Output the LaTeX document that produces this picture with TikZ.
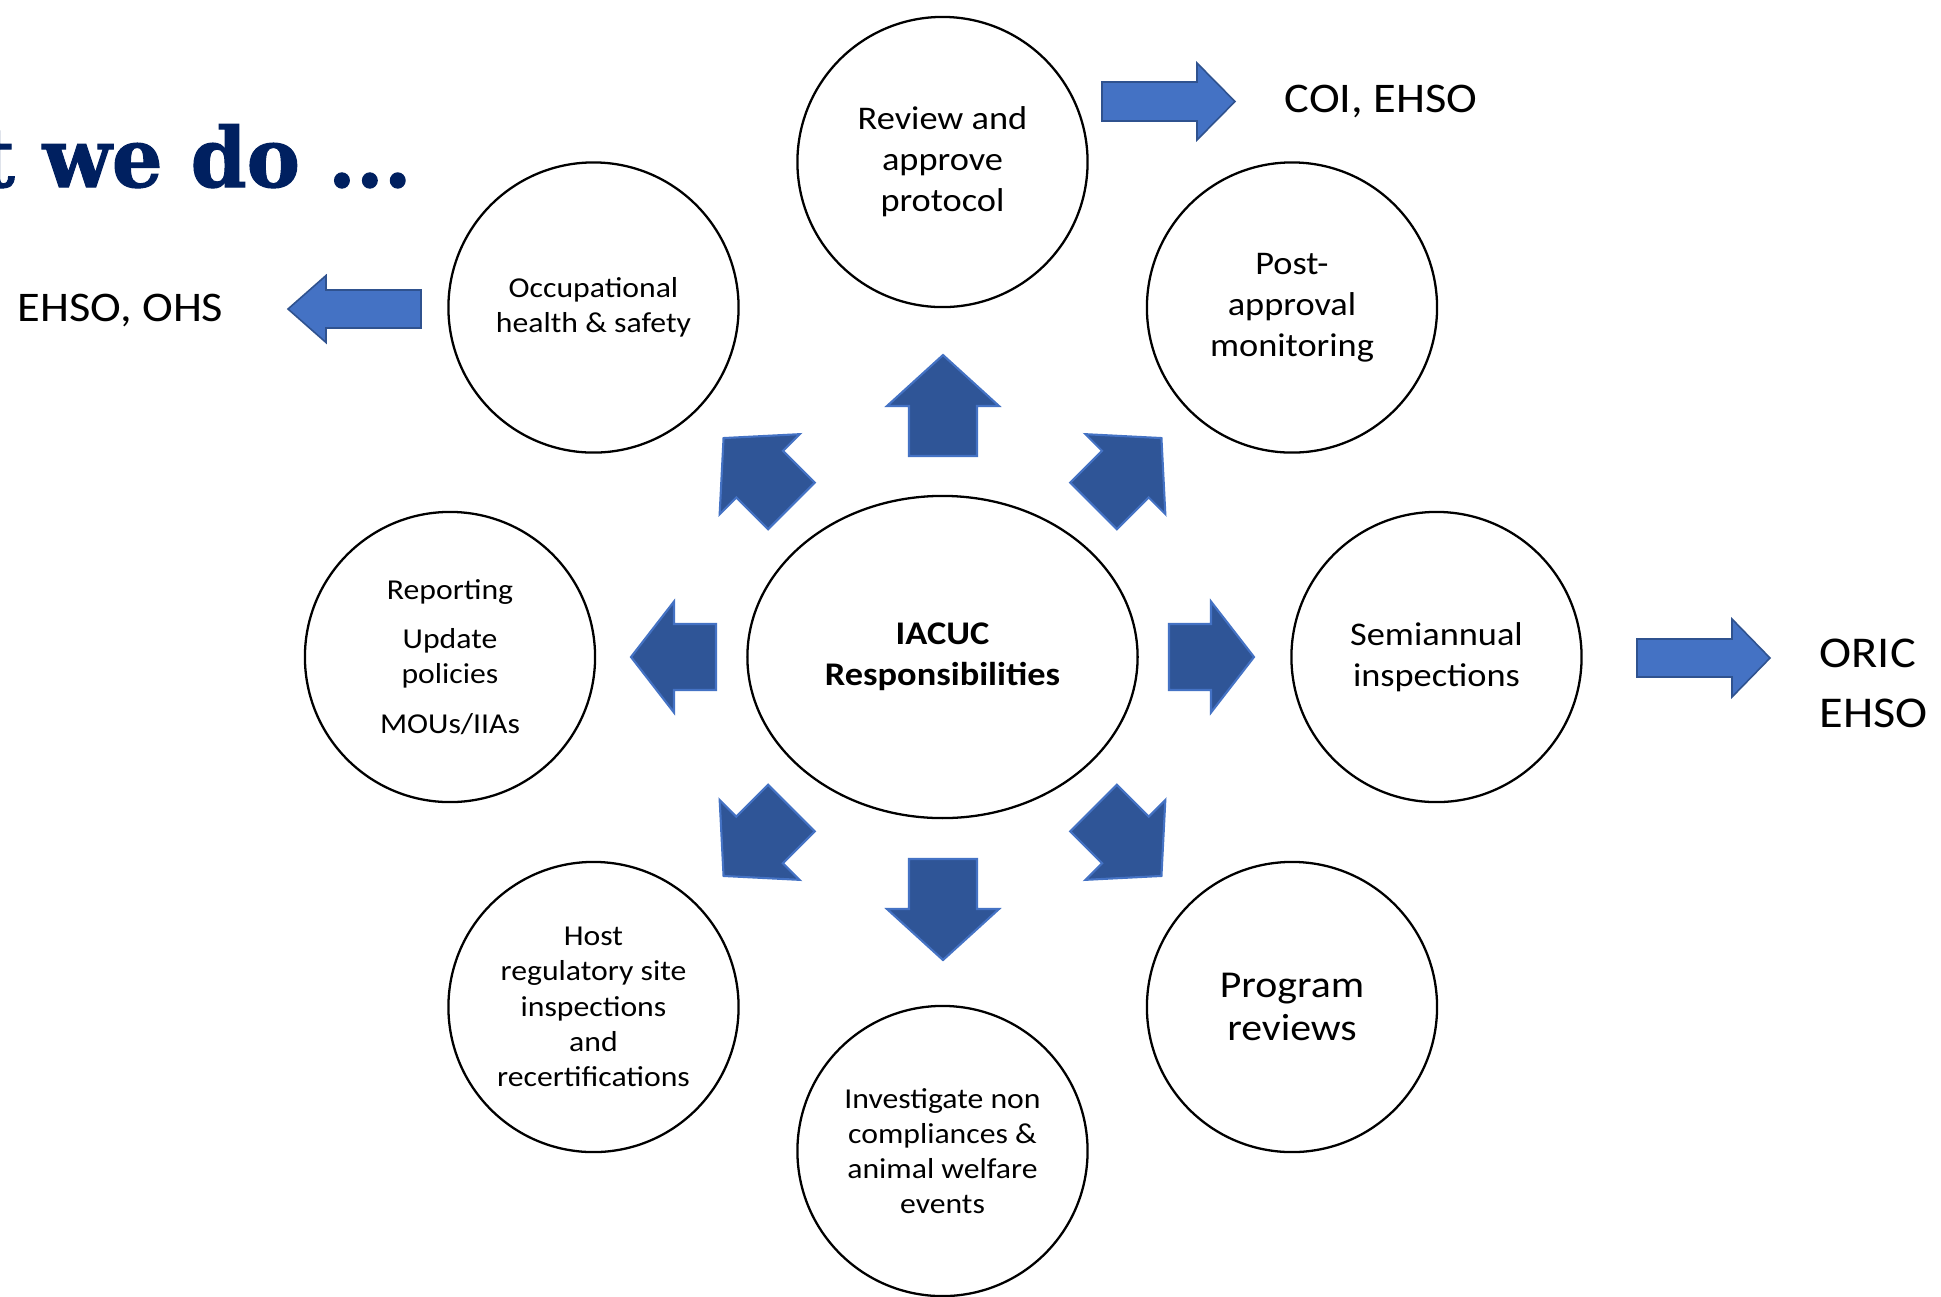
\documentclass[tikz,border=0pt]{standalone}
\usepackage{fontspec}
\setmainfont{Carlito}[FakeStretch=1.1]
\newfontfamily\titlefont{DejaVu Serif}[FakeStretch=0.97,FakeBold=1.2]
\usetikzlibrary{shapes.geometric}
\definecolor{arrdark}{HTML}{2F5597}
\definecolor{arrlight}{HTML}{4472C4}
\definecolor{arredge}{HTML}{2F528F}
\definecolor{titleblue}{HTML}{002060}
% block arrow: style, x, y, angle, shaft length, head length, shaft half width, head half width
\newcommand\blkarrow[8]{%
  \begin{scope}[shift={(#2,#3)}, rotate=#4]
    \pgfmathsetmacro\blkta{-(#5+#6)/2}
    \pgfmathsetmacro\blkhb{\blkta+#5}
    \pgfmathsetmacro\blktp{\blkta+#5+#6}
    \draw[#1] (\blkta,-#7) -- (\blkhb,-#7) -- (\blkhb,-#8) -- (\blktp,0)
      -- (\blkhb,#8) -- (\blkhb,#7) -- (\blkta,#7) -- cycle;
  \end{scope}}
\tikzset{
  bubble/.style={circle, draw=black, line width=0.65pt, minimum size=2.9cm,
    inner sep=0pt, align=center},
  smalltxt/.style={font=\fontsize{8.2}{10}\selectfont},
  midtxt/.style={font=\fontsize{9.4}{11.7}\selectfont},
  innerarrow/.style={fill=arrdark, draw=arrlight, line width=0.6pt},
  outerarrow/.style={fill=arrlight, draw=arredge, line width=0.45pt},
  outlabel/.style={inner sep=0pt, font=\fontsize{12}{14}\selectfont},
}
\begin{document}
\begin{tikzpicture}[x=0.01cm, y=-0.01cm]
\useasboundingbox (0,0) rectangle (1941,1296);
\fill[white] (0,0) rectangle (1941,1296);
\clip (0,0) rectangle (1941,1296);

% title
\node[anchor=base west, inner sep=0pt, text=titleblue,
  font=\titlefont\bfseries\fontsize{23.5}{28}\selectfont] (title) at (42,187)
  {\llap{t\ }we do ...};

% centre
\node[ellipse, draw=black, line width=0.65pt, minimum width=3.9cm,
  minimum height=3.22cm, inner sep=0pt, align=center,
  font=\bfseries\fontsize{9.4}{11.7}\selectfont] (core) at (942.5,657)
  {IACUC\\Responsibilities};

% satellites
\node[bubble, midtxt] (rev) at (942.5,162) {Review and\\approve\\protocol};
\node[bubble, smalltxt] (occ) at (593.5,307.5) {Occupational\\health \& safety};
\node[bubble, midtxt] (post) at (1292,307.5) {Post-\\approval\\monitoring};
\node[bubble, smalltxt] (rep) at (450,657) {Reporting\\[4pt]Update\\policies\\[4pt]MOUs/IIAs};
\node[bubble, midtxt] (semi) at (1436.5,657) {Semiannual\\inspections};
\node[bubble, smalltxt] (host) at (593.5,1007) {Host\\regulatory site\\inspections\\and\\recertifications};
\node[bubble, font=\fontsize{10.8}{12.4}\selectfont] (prog) at (1292,1007) {Program\\reviews};
\node[bubble, smalltxt] (inv) at (942.5,1151) {Investigate non\\compliances \&\\animal welfare\\events};

% inner block arrows
\blkarrow{innerarrow}{943}{405.5}{90}{50}{51}{34}{56}
\blkarrow{innerarrow}{943}{909.5}{270}{50}{51}{34}{56}
\blkarrow{innerarrow}{673.5}{657}{180}{42}{43}{33}{55.5}
\blkarrow{innerarrow}{1211.5}{657}{0}{42}{43}{33}{55.5}
\blkarrow{innerarrow}{757.5}{472}{135}{45}{51}{33}{56.5}
\blkarrow{innerarrow}{1127.5}{472}{45}{45}{51}{33}{56.5}
\blkarrow{innerarrow}{757.5}{842}{225}{45}{51}{33}{56.5}
\blkarrow{innerarrow}{1127.5}{842}{315}{45}{51}{33}{56.5}

% outer block arrows
\blkarrow{outerarrow}{1168.5}{101.5}{0}{95}{38}{19.5}{38.5}
\blkarrow{outerarrow}{1703.5}{658}{0}{95}{38}{19}{39}
\blkarrow{outerarrow}{354.5}{309}{180}{95}{38}{19}{33.5}

% outer labels
\node[outlabel, anchor=base west] (coi) at (1284,112) {COI, EHSO};
\node[outlabel, anchor=base west, font=\fontsize{12.5}{14}\selectfont] (oric) at (1819,667) {ORIC};
\node[outlabel, anchor=base west, font=\fontsize{12.5}{14}\selectfont] (ehsob) at (1819,727) {EHSO};
\node[outlabel, anchor=base west] (ehsoohs) at (17,321) {EHSO, OHS};
\end{tikzpicture}
\end{document}
